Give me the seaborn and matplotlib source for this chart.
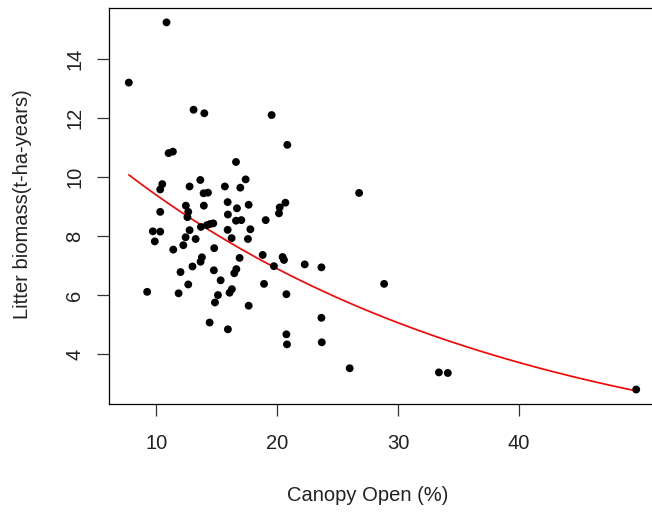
import numpy as np
import pandas as pd
import matplotlib
matplotlib.use("Agg")
import matplotlib.pyplot as plt
import seaborn as sns

# Canopy openness (%) and litter biomass for each plot
canopy_open = [
    7.73, 10.85, 13.09, 13.98, 19.55, 20.85, 11.02, 11.38, 16.60, 10.50,
    10.33, 13.65, 12.76, 15.68, 16.96, 17.40, 13.92, 14.28, 12.45, 12.65,
    12.58, 13.94, 15.91, 17.65, 16.68, 15.93, 10.33, 20.69, 20.22, 20.16,
    19.06, 16.60, 17.04, 13.70, 14.20, 14.47, 14.72, 12.76, 9.72, 10.33,
    15.91, 17.79, 9.88, 12.43, 13.26, 16.24, 17.59, 11.41, 12.24, 14.80,
    13.78, 13.67, 16.90, 18.81, 19.74, 20.46, 20.57, 22.29, 23.67, 13.00,
    12.01, 14.77, 16.63, 16.46, 15.33, 12.65, 18.92, 28.86, 9.25, 11.85,
    15.11, 16.26, 16.07, 20.77, 14.86, 17.65, 23.67, 14.42, 15.93, 20.77,
    20.82, 23.70, 26.01, 33.39, 34.13, 49.72, 26.79,
]
litter_biomass = [
    13.20, 15.24, 12.28, 12.16, 12.10, 11.09, 10.81, 10.86, 10.51, 9.76,
    9.58, 9.90, 9.68, 9.68, 9.64, 9.92, 9.45, 9.47, 9.03, 8.82,
    8.64, 9.03, 9.15, 9.06, 8.94, 8.73, 8.82, 9.13, 8.97, 8.77,
    8.54, 8.52, 8.54, 8.31, 8.37, 8.41, 8.43, 8.20, 8.16, 8.15,
    8.21, 8.23, 7.82, 7.96, 7.90, 7.93, 7.90, 7.54, 7.69, 7.59,
    7.28, 7.13, 7.26, 7.36, 6.98, 7.29, 7.19, 7.04, 6.94, 6.97,
    6.78, 6.84, 6.88, 6.74, 6.50, 6.36, 6.38, 6.38, 6.11, 6.06,
    6.00, 6.20, 6.08, 6.03, 5.75, 5.64, 5.23, 5.07, 4.84, 4.67,
    4.33, 4.40, 3.52, 3.38, 3.36, 2.80, 9.46,
]

# Exponential decay fit: biomass = a * exp(b * canopy)
fit_a = 12.79
fit_b = -0.0309

x_ticks = [10, 20, 30, 40]
y_ticks = [4, 6, 8, 10, 12, 14]

df = pd.DataFrame({"canopy": canopy_open, "biomass": litter_biomass})
x_fit = np.linspace(df["canopy"].min(), df["canopy"].max(), 200)
fit_df = pd.DataFrame({"canopy": x_fit, "biomass": fit_a * np.exp(fit_b * x_fit)})

sns.set_style("white")
plt.rcParams["font.family"] = ["Liberation Sans", "DejaVu Sans"]

fig = plt.figure(figsize=(6.52, 5.13), dpi=100)
ax = fig.add_axes([108.5 / 652, (513 - 404.2) / 513, 548 / 652, 396.5 / 513])

sns.scatterplot(data=df, x="canopy", y="biomass", ax=ax, color="black",
                s=32, edgecolor="none", zorder=3)
sns.lineplot(data=fit_df, x="canopy", y="biomass", ax=ax, color="red",
             linewidth=1.2, zorder=2)

# axis ranges padded by 4% on each side
def padded(vals):
    lo, hi = min(vals), max(vals)
    d = 0.04 * (hi - lo)
    return lo - d, hi + d

ax.set_xlim(*padded(canopy_open))
ax.set_ylim(*padded(litter_biomass))
ax.set_xticks(x_ticks)
ax.set_yticks(y_ticks)

for sp in ax.spines.values():
    sp.set_color("black")
    sp.set_linewidth(0.9)

ax.tick_params(axis="both", direction="out", length=8.5, width=0.9,
               color="#333333", labelsize=14.5, labelcolor="#222222")
ax.tick_params(axis="x", pad=13, bottom=True)
ax.tick_params(axis="y", pad=9, left=True, labelrotation=90)
for lbl in ax.get_yticklabels():
    lbl.set_va("center")

ax.set_xlabel("Canopy Open (%)", fontsize=14.5, color="#222222")
ax.set_ylabel("Litter biomass(t-ha-years)", fontsize=14.5, color="#222222")
ax.xaxis.set_label_coords(0.4735, -0.2315)
ax.xaxis.label.set_va("center")
ax.yaxis.set_label_coords(-(108.5 - 23) / 548, 0.505)
ax.yaxis.label.set_va("center")

fig.savefig("out.png", dpi=100)
